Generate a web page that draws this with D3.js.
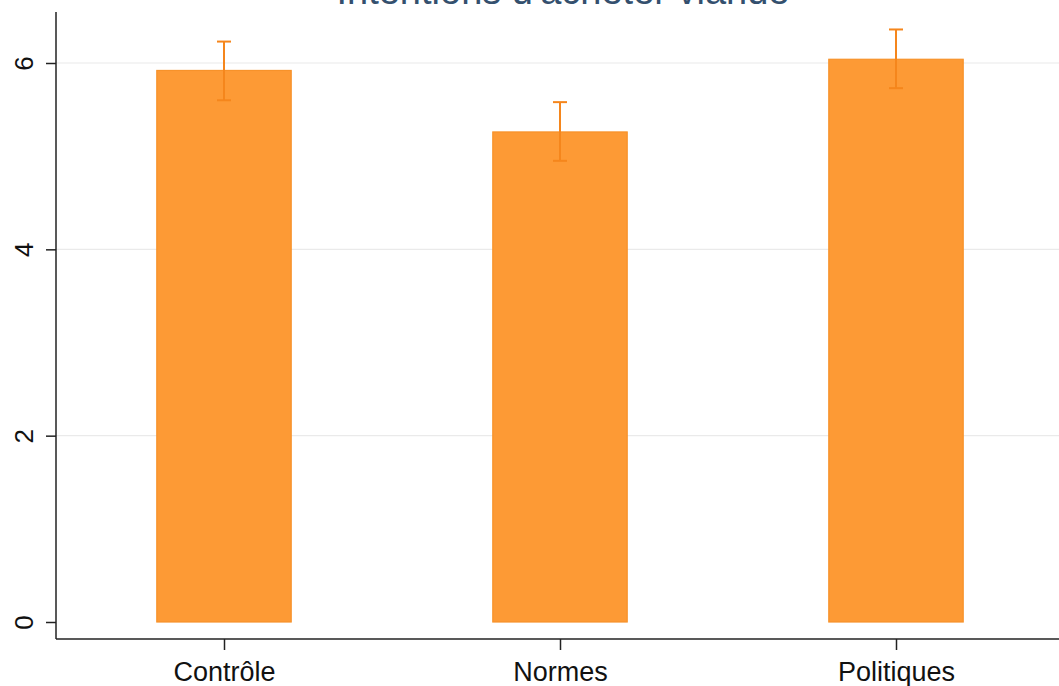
<!DOCTYPE html>
<html><head><meta charset="utf-8">
<script src="https://cdn.jsdelivr.net/npm/d3@7"></script>
<style>body{margin:0;background:#fff}svg{display:block}</style>
</head><body>
<svg id="c" width="1059" height="686"></svg>
<script>
const title = "Intentions d'acheter viande";
const categories = ["Contrôle", "Normes", "Politiques"];
const means = [5.92, 5.26, 6.04];
const ciLow = [5.60, 4.95, 5.73];
const ciHigh = [6.23, 5.58, 6.36];
const yTicks = [0, 2, 4, 6];

const svg = d3.select("#c");
const W = 1059, H = 686;
const left = 56, axisY = 639;
const y = d3.scaleLinear().domain([0, 6]).range([622, 63]);
const x = d3.scalePoint().domain(categories).range([56, 1064]).padding(0.5);
const barW = x.step() * 0.4;
const font = "Liberation Sans, Arial, sans-serif";

// title (cut off at top as in the reference)
svg.append("text").attr("x", 563).attr("y", 4).attr("text-anchor", "middle")
  .attr("font-family", font).attr("font-size", 38)
  .attr("fill", "#34506e").text(title);

// grid
svg.append("g").selectAll("line").data(yTicks.filter(d => d > 0)).join("line")
  .attr("x1", left).attr("x2", W).attr("y1", d => y(d)).attr("y2", d => y(d))
  .attr("stroke", "#eaeaea").attr("stroke-width", 1.2);

// bars
svg.append("g").selectAll("rect").data(categories).join("rect")
  .attr("x", (d) => x(d) - barW / 2).attr("width", barW)
  .attr("y", (d, i) => y(means[i])).attr("height", (d, i) => y(0) - y(means[i]))
  .attr("fill", "#fd9a35").attr("stroke", "#f7922a").attr("stroke-width", 1.2);

// error bars
const eb = svg.append("g").attr("stroke", "#f5861c").attr("stroke-width", 2);
categories.forEach((c, i) => {
  const cx = x(c);
  eb.append("line").attr("x1", cx).attr("x2", cx).attr("y1", y(ciLow[i])).attr("y2", y(ciHigh[i]));
  eb.append("line").attr("x1", cx - 7).attr("x2", cx + 7).attr("y1", y(ciLow[i])).attr("y2", y(ciLow[i]));
  eb.append("line").attr("x1", cx - 7).attr("x2", cx + 7).attr("y1", y(ciHigh[i])).attr("y2", y(ciHigh[i]));
});

// y axis
const ya = svg.append("g").attr("transform", `translate(${left},0)`)
  .call(d3.axisLeft(y).tickValues(yTicks).tickSize(10).tickPadding(0).tickFormat(d3.format("d")));
ya.select(".domain").attr("d", `M0,12V${axisY}`).attr("stroke", "#222").attr("stroke-width", 1.5);
ya.selectAll(".tick line").attr("stroke", "#222").attr("stroke-width", 1.5);
ya.selectAll(".tick text").attr("font-family", font).attr("font-size", 26)
  .attr("fill", "#111").attr("text-anchor", "middle").attr("dy", null)
  .attr("transform", "translate(-32,0) rotate(-90)").attr("x", 0).attr("y", 9);

// x axis
const xa = svg.append("g").attr("transform", `translate(0,${axisY})`)
  .call(d3.axisBottom(x).tickSize(11).tickPadding(0));
xa.select(".domain").attr("d", `M${left},0H${W}`).attr("stroke", "#222").attr("stroke-width", 1.5);
xa.selectAll(".tick line").attr("stroke", "#222").attr("stroke-width", 1.5);
xa.selectAll(".tick text").attr("font-family", font).attr("font-size", 27)
  .attr("fill", "#111").attr("dy", null).attr("y", 42);
</script>
</body></html>
